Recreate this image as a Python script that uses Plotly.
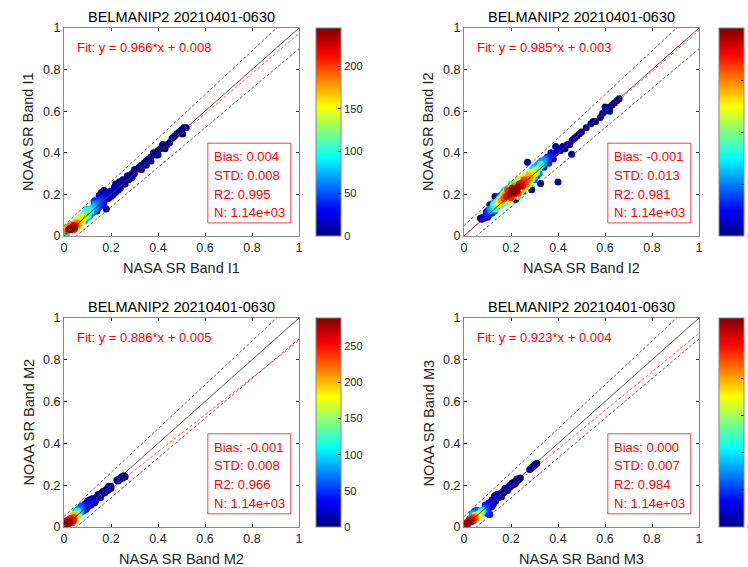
import plotly.graph_objects as go

# ---------------- data ----------------
TITLE = "BELMANIP2 20210401-0630"
BANDS = ["I1", "I2", "M2", "M3"]
FIT_SLOPE = [0.966, 0.985, 0.886, 0.923]
FIT_INTERCEPT = [0.008, 0.003, 0.005, 0.004]
BIAS = ["0.004", "-0.001", "-0.001", "0.000"]
STD = ["0.008", "0.013", "0.008", "0.007"]
R2 = ["0.995", "0.981", "0.966", "0.984"]
N_TEXT = ["1.14e+03", "1.14e+03", "1.14e+03", "1.14e+03"]
CBAR_MAX = [245, 200, 289, 282]
CBAR_TICKS = [[0, 50, 100, 150, 200], [0, 50, 100, 150, 200],
              [0, 50, 100, 150, 200, 250], [0, 50, 100, 150, 200, 250]]
AXIS_TICKS = [0, 0.2, 0.4, 0.6, 0.8, 1]
AXIS_TICK_LABELS = ["0", "0.2", "0.4", "0.6", "0.8", "1"]
ENVELOPE_ABS = 0.05
ENVELOPE_REL = 0.05

# density scatter points (x, y, density)
pts_i1 = [
    (0.025, 0.035, 245), (0.035, 0.04, 240), (0.03, 0.03, 235), (0.045, 0.045, 225), (0.02, 0.03, 230),
    (0.04, 0.05, 215), (0.05, 0.05, 200), (0.045, 0.035, 210),
    (0.015, 0.025, 190), (0.02, 0.045, 185), (0.04, 0.03, 195), (0.055, 0.06, 185), (0.06, 0.055, 175),
    (0.05, 0.065, 170), (0.03, 0.055, 180), (0.012, 0.04, 170), (0.06, 0.045, 160),
    (0.065, 0.07, 160), (0.07, 0.08, 150), (0.075, 0.065, 145), (0.06, 0.08, 150), (0.08, 0.09, 140),
    (0.07, 0.09, 130), (0.08, 0.07, 100), (0.065, 0.085, 140), (0.075, 0.095, 125),
    (0.085, 0.1, 130), (0.09, 0.09, 125), (0.095, 0.105, 115), (0.08, 0.1, 120), (0.1, 0.1, 110),
    (0.1, 0.12, 100), (0.105, 0.11, 95), (0.11, 0.125, 90), (0.115, 0.12, 85), (0.12, 0.135, 80),
    (0.1, 0.13, 85), (0.005, 0.015, 90), (0.01, 0.005, 80), (0.09, 0.115, 100), (0.105, 0.09, 80),
    (0.125, 0.14, 70), (0.13, 0.15, 65), (0.135, 0.13, 60), (0.14, 0.15, 55), (0.145, 0.16, 50),
    (0.12, 0.11, 60), (0.09, 0.075, 70), (0.11, 0.1, 55), (0.125, 0.115, 60), (0.13, 0.155, 55),
    (0.15, 0.17, 45), (0.155, 0.155, 40), (0.16, 0.18, 38), (0.165, 0.17, 35), (0.17, 0.185, 30),
    (0.175, 0.19, 28), (0.18, 0.19, 25), (0.15, 0.14, 35), (0.13, 0.17, 40), (0.14, 0.12, 30),
    (0.16, 0.15, 30), (0.145, 0.135, 40), (0.155, 0.175, 40), (0.17, 0.16, 25),
    (0.19, 0.2, 18), (0.2, 0.21, 16), (0.21, 0.22, 15), (0.2, 0.19, 15), (0.215, 0.235, 12),
    (0.22, 0.21, 12), (0.23, 0.24, 10), (0.24, 0.25, 10), (0.235, 0.26, 8), (0.25, 0.27, 8),
    (0.18, 0.21, 20), (0.19, 0.18, 15), (0.21, 0.2, 12), (0.22, 0.25, 10), (0.24, 0.23, 8),
    (0.185, 0.2, 20), (0.195, 0.215, 15), (0.205, 0.195, 12), (0.22, 0.23, 12), (0.23, 0.22, 10),
    (0.245, 0.265, 8),
    (0.255, 0.25, 8), (0.26, 0.27, 7), (0.27, 0.28, 6), (0.28, 0.29, 6), (0.275, 0.27, 5),
    (0.26, 0.25, 6), (0.27, 0.29, 5), (0.29, 0.28, 4), (0.3, 0.3, 4),
    (0.29, 0.3, 5), (0.3, 0.32, 4), (0.31, 0.32, 4), (0.32, 0.33, 4), (0.33, 0.34, 3),
    (0.34, 0.35, 3), (0.35, 0.36, 3), (0.36, 0.37, 3), (0.37, 0.38, 3), (0.38, 0.4, 3),
    (0.33, 0.32, 3), (0.35, 0.34, 3), (0.37, 0.36, 2), (0.4, 0.39, 2), (0.43, 0.42, 2),
    (0.39, 0.39, 3), (0.4, 0.41, 2), (0.41, 0.42, 2), (0.42, 0.44, 2), (0.44, 0.44, 2),
    (0.45, 0.45, 2), (0.46, 0.47, 2), (0.47, 0.48, 2), (0.48, 0.49, 2), (0.49, 0.5, 2),
    (0.5, 0.51, 2), (0.51, 0.52, 2), (0.52, 0.52, 2), (0.505, 0.49, 2),
    (0.18, 0.13, 1), (0.17, 0.22, 1), (0.15, 0.195, 2), (0.16, 0.21, 3),
]
pts_i2 = [
    (0.21, 0.22, 200), (0.22, 0.225, 198), (0.2, 0.21, 195), (0.23, 0.235, 192), (0.215, 0.205, 192),
    (0.205, 0.23, 190), (0.225, 0.215, 188), (0.24, 0.24, 185), (0.195, 0.2, 185),
    (0.18, 0.19, 175), (0.19, 0.215, 170), (0.245, 0.255, 175), (0.25, 0.24, 170), (0.26, 0.26, 165),
    (0.235, 0.25, 178), (0.2, 0.185, 170), (0.17, 0.18, 160), (0.185, 0.22, 158), (0.23, 0.205, 165),
    (0.255, 0.27, 160), (0.27, 0.27, 155), (0.265, 0.25, 150), (0.21, 0.19, 150), (0.19, 0.23, 140),
    (0.28, 0.28, 145), (0.275, 0.29, 140), (0.16, 0.17, 145), (0.165, 0.19, 135), (0.175, 0.2, 145),
    (0.29, 0.29, 130), (0.285, 0.305, 125), (0.245, 0.225, 140), (0.215, 0.24, 150), (0.15, 0.165, 128),
    (0.195, 0.235, 130), (0.17, 0.2, 120), (0.19, 0.17, 120), (0.25, 0.28, 130), (0.27, 0.24, 120),
    (0.26, 0.29, 120), (0.22, 0.2, 125),
    (0.3, 0.3, 118), (0.3, 0.315, 110), (0.145, 0.15, 115), (0.155, 0.18, 108), (0.14, 0.165, 100),
    (0.255, 0.23, 112), (0.17, 0.21, 105), (0.31, 0.32, 100), (0.215, 0.195, 108), (0.225, 0.255, 115),
    (0.28, 0.26, 110), (0.23, 0.27, 110), (0.24, 0.21, 110), (0.14, 0.155, 105), (0.16, 0.185, 100),
    (0.24, 0.27, 100), (0.26, 0.28, 105),
    (0.32, 0.33, 90), (0.31, 0.305, 85), (0.325, 0.345, 80), (0.13, 0.145, 88), (0.135, 0.13, 80),
    (0.125, 0.15, 75), (0.165, 0.16, 85), (0.26, 0.235, 90), (0.27, 0.255, 95), (0.2, 0.24, 95),
    (0.18, 0.225, 85), (0.33, 0.34, 70), (0.285, 0.27, 88), (0.16, 0.15, 90), (0.15, 0.18, 70),
    (0.29, 0.32, 70), (0.18, 0.165, 95), (0.2, 0.18, 90), (0.28, 0.25, 80), (0.29, 0.275, 90),
    (0.2, 0.25, 80), (0.17, 0.22, 75), (0.23, 0.19, 80), (0.25, 0.22, 70),
    (0.34, 0.35, 60), (0.335, 0.36, 55), (0.345, 0.37, 50), (0.12, 0.13, 62), (0.115, 0.12, 55),
    (0.11, 0.13, 50), (0.14, 0.14, 60), (0.19, 0.175, 55), (0.3, 0.285, 65), (0.28, 0.3, 60),
    (0.16, 0.2, 55), (0.3, 0.33, 60), (0.32, 0.3, 50), (0.33, 0.36, 45), (0.12, 0.14, 45),
    (0.13, 0.12, 45), (0.31, 0.34, 55), (0.32, 0.35, 50), (0.3, 0.27, 45), (0.13, 0.16, 50),
    (0.35, 0.36, 38), (0.36, 0.37, 35), (0.355, 0.38, 32), (0.37, 0.385, 30), (0.38, 0.39, 28),
    (0.1, 0.11, 35), (0.105, 0.1, 30), (0.095, 0.115, 28), (0.12, 0.11, 30), (0.31, 0.29, 35),
    (0.34, 0.33, 30), (0.15, 0.19, 30), (0.14, 0.18, 25), (0.25, 0.215, 25), (0.36, 0.35, 30),
    (0.37, 0.4, 25), (0.38, 0.37, 20), (0.1, 0.12, 25), (0.11, 0.125, 40),
    (0.39, 0.4, 15), (0.4, 0.42, 12), (0.41, 0.41, 12), (0.42, 0.43, 10), (0.39, 0.43, 8),
    (0.43, 0.42, 8), (0.44, 0.44, 6), (0.45, 0.44, 6), (0.46, 0.46, 5), (0.47, 0.47, 5),
    (0.48, 0.48, 4), (0.49, 0.49, 4), (0.5, 0.5, 3), (0.52, 0.52, 3), (0.54, 0.54, 3),
    (0.55, 0.55, 3), (0.56, 0.55, 3), (0.58, 0.57, 3), (0.59, 0.59, 4), (0.6, 0.6, 4),
    (0.61, 0.61, 5), (0.62, 0.62, 5), (0.63, 0.63, 4), (0.64, 0.64, 4), (0.65, 0.65, 3),
    (0.66, 0.66, 3), (0.62, 0.6, 3), (0.6, 0.62, 3), (0.085, 0.085, 15), (0.075, 0.08, 12),
    (0.08, 0.09, 12), (0.09, 0.095, 15), (0.07, 0.085, 10), (0.1, 0.09, 10),
    (0.27, 0.355, 2), (0.40, 0.26, 2), (0.458, 0.393, 2), (0.326, 0.253, 2), (0.132, 0.19, 2),
    (0.288, 0.222, 3), (0.22, 0.175, 3), (0.11, 0.15, 5),
]
pts_m2 = [
    (0.015, 0.02, 289), (0.02, 0.025, 285), (0.025, 0.02, 280), (0.01, 0.015, 275), (0.02, 0.015, 278),
    (0.03, 0.03, 265), (0.015, 0.03, 270),
    (0.035, 0.035, 250), (0.03, 0.04, 245), (0.04, 0.03, 240), (0.01, 0.03, 240), (0.025, 0.04, 245),
    (0.005, 0.02, 235), (0.035, 0.02, 235), (0.04, 0.045, 230),
    (0.045, 0.045, 210), (0.045, 0.055, 200), (0.05, 0.05, 190), (0.04, 0.06, 195), (0.05, 0.04, 185),
    (0.055, 0.06, 150), (0.06, 0.055, 140), (0.055, 0.07, 130), (0.005, 0.005, 110), (0.015, 0.005, 100),
    (0.0, 0.012, 95), (0.065, 0.065, 110), (0.06, 0.075, 100), (0.05, 0.075, 90),
    (0.065, 0.08, 80), (0.07, 0.07, 75), (0.075, 0.085, 65), (0.07, 0.095, 60), (0.06, 0.085, 70),
    (0.08, 0.09, 45), (0.085, 0.1, 40), (0.09, 0.095, 38), (0.08, 0.075, 40), (0.095, 0.105, 35),
    (0.1, 0.11, 32), (0.105, 0.1, 30), (0.11, 0.12, 28), (0.1, 0.125, 25), (0.075, 0.1, 50),
    (0.085, 0.08, 45), (0.09, 0.11, 35), (0.1, 0.095, 30), (0.105, 0.12, 25),
    (0.115, 0.115, 20), (0.12, 0.125, 18), (0.125, 0.13, 15), (0.13, 0.135, 15), (0.135, 0.125, 12),
    (0.14, 0.145, 12), (0.145, 0.14, 10), (0.15, 0.155, 10), (0.155, 0.15, 9), (0.16, 0.16, 8),
    (0.115, 0.105, 20), (0.12, 0.135, 15), (0.13, 0.115, 12), (0.14, 0.135, 12), (0.145, 0.155, 10),
    (0.155, 0.14, 8), (0.165, 0.16, 7), (0.175, 0.165, 6), (0.185, 0.175, 5), (0.19, 0.195, 4),
    (0.165, 0.17, 8), (0.17, 0.165, 7), (0.175, 0.175, 6), (0.18, 0.175, 6), (0.185, 0.185, 5),
    (0.19, 0.18, 5), (0.195, 0.19, 4), (0.2, 0.185, 3), (0.2, 0.195, 3), (0.225, 0.225, 4),
    (0.235, 0.23, 5), (0.245, 0.24, 5), (0.25, 0.235, 4), (0.255, 0.245, 4), (0.26, 0.24, 3),
    (0.23, 0.22, 3), (0.24, 0.23, 5), (0.11, 0.13, 10), (0.13, 0.12, 8), (0.095, 0.085, 15),
]
pts_m3 = [
    (0.02, 0.02, 282), (0.025, 0.025, 278), (0.015, 0.015, 272), (0.03, 0.025, 268), (0.02, 0.03, 265),
    (0.03, 0.035, 255), (0.01, 0.02, 255),
    (0.035, 0.03, 240), (0.04, 0.04, 235), (0.025, 0.04, 230), (0.04, 0.03, 225), (0.045, 0.045, 215),
    (0.01, 0.01, 230), (0.005, 0.015, 215), (0.035, 0.045, 220),
    (0.05, 0.05, 200), (0.05, 0.04, 190), (0.055, 0.055, 180), (0.045, 0.055, 185), (0.06, 0.05, 175),
    (0.06, 0.06, 160), (0.065, 0.055, 150), (0.065, 0.065, 140), (0.07, 0.06, 130), (0.075, 0.07, 120),
    (0.0, 0.005, 100), (0.005, 0.0, 95), (0.0, 0.015, 90), (0.015, 0.0, 88), (0.08, 0.075, 100),
    (0.075, 0.08, 95), (0.04, 0.06, 85), (0.035, 0.065, 80), (0.065, 0.075, 70),
    (0.05, 0.07, 60), (0.045, 0.075, 50), (0.085, 0.08, 65), (0.09, 0.09, 55), (0.095, 0.085, 50),
    (0.1, 0.065, 40), (0.1, 0.1, 40), (0.105, 0.095, 35), (0.11, 0.06, 30), (0.11, 0.11, 30),
    (0.115, 0.12, 28), (0.12, 0.115, 25), (0.055, 0.08, 55), (0.09, 0.105, 45), (0.1, 0.08, 40),
    (0.105, 0.115, 35), (0.115, 0.095, 30), (0.12, 0.13, 25),
    (0.125, 0.13, 20), (0.13, 0.125, 18), (0.135, 0.14, 16), (0.14, 0.145, 15), (0.145, 0.14, 14),
    (0.15, 0.15, 12), (0.155, 0.16, 10), (0.16, 0.155, 10), (0.165, 0.17, 9), (0.17, 0.165, 8),
    (0.125, 0.11, 20), (0.135, 0.125, 16), (0.145, 0.155, 14), (0.155, 0.145, 11), (0.165, 0.16, 9),
    (0.175, 0.185, 8), (0.185, 0.175, 6), (0.195, 0.2, 5), (0.205, 0.21, 5), (0.215, 0.205, 4),
    (0.225, 0.23, 3),
    (0.175, 0.175, 8), (0.18, 0.18, 7), (0.185, 0.185, 6), (0.19, 0.19, 6), (0.195, 0.19, 5),
    (0.2, 0.2, 5), (0.205, 0.2, 5), (0.21, 0.205, 4), (0.215, 0.215, 4), (0.22, 0.21, 4),
    (0.225, 0.22, 3), (0.23, 0.225, 3), (0.235, 0.23, 3), (0.24, 0.235, 3), (0.28, 0.275, 3),
    (0.285, 0.28, 3), (0.29, 0.285, 3), (0.295, 0.29, 3), (0.3, 0.295, 3), (0.305, 0.3, 3),
    (0.31, 0.305, 2), (0.14, 0.155, 10), (0.16, 0.145, 8), (0.12, 0.1, 20), (0.13, 0.15, 12),
]
POINTS = [pts_i1, pts_i2, pts_m2, pts_m3]

# ---------------- style / layout ----------------
W, H = 748, 567
FONT = "Liberation Sans, Arial, Helvetica, sans-serif"
AXC = "#262626"
JET = [[0.0, "rgb(0,0,128)"], [0.125, "rgb(0,0,255)"], [0.375, "rgb(0,255,255)"],
       [0.625, "rgb(255,255,0)"], [0.875, "rgb(255,0,0)"], [1.0, "rgb(128,0,0)"]]

# plot boxes in pixels: (left, right, top, bottom)
BOXES = [(64, 299, 28, 236), (464, 699, 28, 236), (64, 299, 318, 527), (464, 699, 318, 527)]
CB_LEFT = [316, 719, 316, 719]
CB_W = 25


def px2paper_x(p):
    return p / W


def px2paper_y(p):
    return 1 - p / H


fig = go.Figure()
layout = dict(width=W, height=H, margin=dict(l=0, r=0, t=0, b=0, autoexpand=False), autosize=False,
              paper_bgcolor="white", plot_bgcolor="white", showlegend=False,
              font=dict(family=FONT, size=12, color=AXC))
annotations = []
shapes = []

for i in range(4):
    sfx = "" if i == 0 else str(i + 1)
    l, r, t, b = BOXES[i]
    ax = dict(range=[0, 1], tickvals=AXIS_TICKS, ticktext=AXIS_TICK_LABELS,
              ticks="inside", ticklen=3, tickwidth=1, tickcolor=AXC,
              showline=True, linecolor="#8a8a8a", linewidth=1, mirror="allticks",
              showgrid=False, zeroline=False, fixedrange=True,
              tickfont=dict(family=FONT, size=12.5, color=AXC))
    layout["xaxis" + sfx] = dict(ax, domain=[px2paper_x(l), px2paper_x(r)],
                                 anchor="y" + sfx)
    layout["yaxis" + sfx] = dict(ax, domain=[px2paper_y(b), px2paper_y(t)],
                                 anchor="x" + sfx)
    layout["coloraxis" + sfx] = dict(
        colorscale=JET, cmin=0, cmax=CBAR_MAX[i],
        colorbar=dict(x=px2paper_x(CB_LEFT[i]), xanchor="left", xpad=0,
                      y=px2paper_y((t + b) / 2), yanchor="middle", ypad=0,
                      len=(b - t) / H, lenmode="fraction",
                      thickness=CB_W, thicknessmode="pixels",
                      outlinewidth=1, outlinecolor="#8a8a8a",
                      tickvals=CBAR_TICKS[i], ticks="inside", ticklen=3, tickcolor=AXC,
                      tickfont=dict(family=FONT, size=11, color=AXC)))

    pts = sorted(POINTS[i], key=lambda p: p[2])
    fig.add_trace(go.Scatter(
        x=[p[0] for p in pts], y=[p[1] for p in pts], mode="markers",
        marker=dict(size=7, color=[p[2] for p in pts], coloraxis="coloraxis" + sfx,
                    line=dict(width=0)),
        xaxis="x" + sfx, yaxis="y" + sfx, hoverinfo="skip"))

    xr = [0, 1]
    # 1:1 line
    fig.add_trace(go.Scatter(x=xr, y=xr, mode="lines", line=dict(color="#333333", width=0.8),
                             xaxis="x" + sfx, yaxis="y" + sfx, hoverinfo="skip"))
    # envelopes
    fig.add_trace(go.Scatter(x=xr, y=[v * (1 + ENVELOPE_REL) + ENVELOPE_ABS for v in xr], mode="lines",
                             line=dict(color="#444444", width=0.8, dash="3px,2px"),
                             xaxis="x" + sfx, yaxis="y" + sfx, hoverinfo="skip"))
    fig.add_trace(go.Scatter(x=xr, y=[v * (1 - ENVELOPE_REL) - ENVELOPE_ABS for v in xr], mode="lines",
                             line=dict(color="#444444", width=0.8, dash="3px,2px"),
                             xaxis="x" + sfx, yaxis="y" + sfx, hoverinfo="skip"))
    # fit line
    fig.add_trace(go.Scatter(x=xr, y=[FIT_SLOPE[i] * v + FIT_INTERCEPT[i] for v in xr], mode="lines",
                             line=dict(color="rgba(255,0,0,0.8)", width=0.8, dash="3px,2px"),
                             xaxis="x" + sfx, yaxis="y" + sfx, hoverinfo="skip"))

    # title, axis labels
    cx = px2paper_x((l + r) / 2)
    annotations.append(dict(text=TITLE, x=cx, y=px2paper_y(t - 11), xref="paper", yref="paper",
                            showarrow=False, xanchor="center", yanchor="middle",
                            font=dict(family=FONT, size=14.5, color="#000000")))
    annotations.append(dict(text="NASA SR Band " + BANDS[i], x=cx, y=px2paper_y(b + 32),
                            xref="paper", yref="paper", showarrow=False,
                            xanchor="center", yanchor="middle",
                            font=dict(family=FONT, size=14.5, color=AXC)))
    annotations.append(dict(text="NOAA SR Band " + BANDS[i], x=px2paper_x(l - 36),
                            y=px2paper_y((t + b) / 2), xref="paper", yref="paper",
                            showarrow=False, textangle=-90, xanchor="center", yanchor="middle",
                            font=dict(family=FONT, size=14.5, color=AXC)))
    # fit text
    annotations.append(dict(text="Fit: y = %.3f*x + %.3f" % (FIT_SLOPE[i], FIT_INTERCEPT[i]),
                            x=0.048, y=0.905, xref="x" + sfx, yref="y" + sfx, showarrow=False,
                            xanchor="left", yanchor="middle",
                            font=dict(family=FONT, size=13, color="#ff0000")))
    # stats box
    shapes.append(dict(type="rect", xref="x" + sfx, yref="y" + sfx, x0=0.612, x1=0.965,
                       y0=0.063, y1=0.446, line=dict(color="rgba(255,0,0,0.75)", width=1),
                       fillcolor="white", layer="above"))
    lines = ["Bias: " + BIAS[i], "STD: " + STD[i], "R2: " + R2[i], "N: " + N_TEXT[i]]
    for txt, yy in zip(lines, [0.381, 0.292, 0.201, 0.113]):
        annotations.append(dict(text=txt, x=0.628, y=yy, xref="x" + sfx, yref="y" + sfx,
                                showarrow=False, xanchor="left", yanchor="middle",
                                font=dict(family=FONT, size=13, color="#ff0000")))

layout["annotations"] = annotations
layout["shapes"] = shapes
fig.update_layout(**layout)
fig.write_html("out.html", config={"displayModeBar": False},
               post_script="document.body.style.margin='0';document.body.style.padding='0';")
